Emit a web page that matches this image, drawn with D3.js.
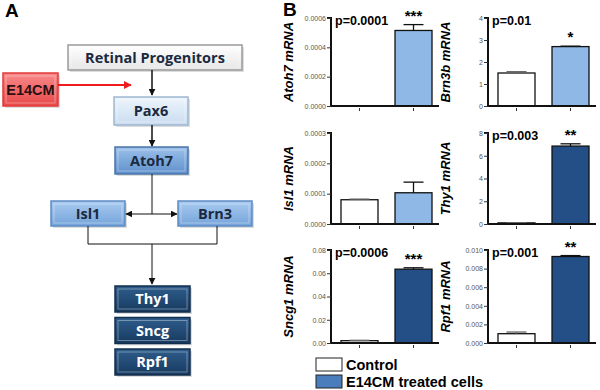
<!DOCTYPE html>
<html>
<head>
<meta charset="utf-8">
<script src="https://cdn.jsdelivr.net/npm/d3@7"></script>
<style>
    body { margin: 0; background: #fff; }
    svg { display: block; font-family: "Liberation Sans", Arial, sans-serif; }
    .tick text { fill: #555; }
</style>
</head>
<body>
<div id="chart"></div>
<script>
// ---- data (panel B) ----
const genes = ["Atoh7", "Brn3b", "Isl1", "Thy1", "Sncg1", "Rpf1"];
const groups = ["Control", "E14CM treated cells"];
const controlMeans = [0.000001, 1.5, 0.00008, 0.1, 0.002, 0.001];
const controlErrors = [0, 0.06, 0.000002, 0.02, 0.0003, 0.00018];
const treatedMeans = [0.000515, 2.7, 0.000103, 6.85, 0.0635, 0.0093];
const treatedErrors = [0.00004, 0.02, 0.000035, 0.2, 0.0012, 0.0001];
const yMaxes = [0.0006, 4, 0.0003, 8, 0.08, 0.010];
const yTicks = [
    [0, 0.0002, 0.0004, 0.0006],
    [0, 1, 2, 3, 4],
    [0, 0.0001, 0.0002, 0.0003],
    [0, 2, 4, 6, 8],
    [0, 0.02, 0.04, 0.06, 0.08],
    [0, 0.002, 0.004, 0.006, 0.008, 0.010]
];
const tickFormats = [".4f", "d", ".4f", "d", ".2f", ".3f"];
const pValues = ["p=0.0001", "p=0.01", "", "p=0.003", "p=0.0006", "p=0.001"];
const stars = ["***", "*", "", "**", "***", "**"];
const treatedShade = ["light", "light", "light", "dark", "dark", "dark"];

// ---- diagram labels (panel A) ----
const pathwayTop = ["Retinal Progenitors", "Pax6", "Atoh7"];
const pathwayPair = ["Isl1", "Brn3"];
const pathwayTargets = ["Thy1", "Sncg", "Rpf1"];
const inducer = "E14CM";

const width = 600, height = 390;
const svg = d3.select("#chart").append("svg")
    .attr("width", width)
    .attr("height", height);

svg.append("rect").attr("width", width).attr("height", height).attr("fill", "#fff");

const defs = svg.append("defs");

// gradients for the bevelled boxes
const gradients = {
    white: ["#ffffff", "#e6e6e6"],
    pale: ["#eef5fc", "#c9dcf0"],
    mid: ["#9cc0ea", "#5f90cc"],
    pair: ["#a9cbf0", "#74a3da"],
    navy: ["#2f5d8c", "#173a60"],
    red: ["#f88a8a", "#e84848"]
};
Object.entries(gradients).forEach(([key, stops]) => {
    const g = defs.append("linearGradient")
        .attr("id", `grad-${key}`)
        .attr("x1", 0).attr("y1", 0).attr("x2", 0).attr("y2", 1);
    g.append("stop").attr("offset", "0%").attr("stop-color", stops[0]);
    g.append("stop").attr("offset", "100%").attr("stop-color", stops[1]);
});

defs.append("marker")
    .attr("id", "arrow-black")
    .attr("viewBox", "0 0 10 10")
    .attr("refX", 9).attr("refY", 5)
    .attr("markerWidth", 7).attr("markerHeight", 7)
    .attr("markerUnits", "userSpaceOnUse")
    .attr("orient", "auto-start-reverse")
    .append("path").attr("d", "M0,0 L10,5 L0,10 z").attr("fill", "#111");

defs.append("marker")
    .attr("id", "arrow-red")
    .attr("viewBox", "0 0 10 10")
    .attr("refX", 9).attr("refY", 5)
    .attr("markerWidth", 8).attr("markerHeight", 8)
    .attr("markerUnits", "userSpaceOnUse")
    .attr("orient", "auto")
    .append("path").attr("d", "M0,0 L10,5 L0,10 z").attr("fill", "#ee1c1c");

// panel letters
svg.append("text").attr("x", 5).attr("y", 17)
    .style("font-size", "19px").style("font-weight", "bold").text("A");
svg.append("text").attr("x", 283).attr("y", 16)
    .style("font-size", "19px").style("font-weight", "bold").text("B");

// ---------- panel A : pathway diagram ----------
const diagram = svg.append("g").attr("class", "diagram");

function drawBox(x, y, w, h, label, grad, stroke, textColor, font) {
    const g = diagram.append("g");
    g.append("rect")
        .attr("x", x + 2).attr("y", y + 2)
        .attr("width", w).attr("height", h)
        .attr("fill", "#bbb").attr("opacity", 0.5);
    g.append("rect")
        .attr("x", x).attr("y", y)
        .attr("width", w).attr("height", h)
        .attr("fill", `url(#grad-${grad})`)
        .attr("stroke", stroke).attr("stroke-width", 1.5);
    // bevel highlight
    g.append("rect")
        .attr("x", x + 3).attr("y", y + 3)
        .attr("width", w - 6).attr("height", h - 6)
        .attr("fill", "none")
        .attr("stroke", "#fff").attr("stroke-opacity", 0.35).attr("stroke-width", 1);
    g.append("text")
        .attr("x", x + w / 2).attr("y", y + h / 2 + 5)
        .attr("text-anchor", "middle")
        .style("font-family", font || "'Open Sans', Lato, sans-serif")
        .style("font-size", "14.5px")
        .style("font-weight", "bold")
        .attr("fill", textColor)
        .text(label);
}

const cx = 152;
drawBox(68, 45, 174, 25, pathwayTop[0], "white", "#9a9a9a", "#1b2a40");
drawBox(114, 97, 74, 28, pathwayTop[1], "pale", "#9fb6cf", "#1b2a40");
drawBox(115, 147, 73, 27, pathwayTop[2], "mid", "#4a76a8", "#1b2a40");
drawBox(51, 201, 74, 25, pathwayPair[0], "pair", "#5c8cc2", "#1b2a40");
drawBox(178, 201, 74, 25, pathwayPair[1], "pair", "#5c8cc2", "#1b2a40");
pathwayTargets.forEach((label, i) => {
    drawBox(115, 286 + i * 31.5, 75, 26, label, "navy", "#132e4c", "#ffffff");
});
drawBox(3, 73, 55, 33, inducer, "red", "#e23a3a", "#2a1010", "'Liberation Sans', Arial, sans-serif");

const arrows = diagram.append("g")
    .attr("stroke", "#111").attr("stroke-width", 1.5).attr("fill", "none");
arrows.append("line").attr("x1", cx).attr("y1", 70).attr("x2", cx).attr("y2", 95)
    .attr("marker-end", "url(#arrow-black)");
arrows.append("line").attr("x1", cx).attr("y1", 125).attr("x2", cx).attr("y2", 146)
    .attr("marker-end", "url(#arrow-black)");
arrows.append("line").attr("x1", cx).attr("y1", 174).attr("x2", cx).attr("y2", 214)
    .attr("stroke-width", 1);
arrows.append("line").attr("x1", 126).attr("y1", 214).attr("x2", 177).attr("y2", 214)
    .attr("stroke-width", 1.2)
    .attr("marker-start", "url(#arrow-black)")
    .attr("marker-end", "url(#arrow-black)");
arrows.append("path")
    .attr("d", "M88,226 V244 H217 V226")
    .attr("stroke-width", 1);
arrows.append("line").attr("x1", cx).attr("y1", 244).attr("x2", cx).attr("y2", 284)
    .attr("stroke-width", 1)
    .attr("marker-end", "url(#arrow-black)");
diagram.append("line")
    .attr("x1", 58).attr("y1", 85).attr("x2", 131).attr("y2", 85)
    .attr("stroke", "#ee1c1c").attr("stroke-width", 2)
    .attr("marker-end", "url(#arrow-red)");

// ---------- panel B : bar charts ----------
const colAxisX = [331, 488];
const rowTop = [18, 133, 250];
const rowBottom = [106, 224, 343];
const plotWidth = 108;
const colors = { control: "#ffffff", light: "#8fb8e6", dark: "#234f86", legend: "#4a7dbb" };

genes.forEach((gene, i) => {
    const col = i % 2, row = Math.floor(i / 2);
    const x0 = colAxisX[col];
    const g = svg.append("g").attr("class", "panel").attr("id", `panel-${gene}`);

    const x = d3.scaleBand()
        .domain(groups)
        .range([x0, x0 + 111])
        .paddingInner(0.315)
        .paddingOuter(0.185);
    const y = d3.scaleLinear()
        .domain([0, yMaxes[i]])
        .range([rowBottom[row], rowTop[row]]);

    const bars = [
        { group: groups[0], mean: controlMeans[i], err: controlErrors[i], fill: colors.control },
        { group: groups[1], mean: treatedMeans[i], err: treatedErrors[i], fill: colors[treatedShade[i]] }
    ];

    // y axis
    const yAxis = d3.axisLeft(y)
        .tickValues(yTicks[i])
        .tickFormat(d3.format(tickFormats[i]))
        .tickSize(4)
        .tickPadding(1);
    const ya = g.append("g")
        .attr("transform", `translate(${x0},0)`)
        .call(yAxis);
    ya.select(".domain").attr("stroke", "#111").attr("stroke-width", 2)
        .attr("d", `M-4,${y(yMaxes[i])}H0V${y(0)}`);
    ya.selectAll(".tick line").attr("stroke", "#333");
    ya.selectAll(".tick text").style("font-size", "7px");

    // bars
    g.selectAll("rect.bar")
        .data(bars)
        .enter()
        .append("rect")
        .attr("class", "bar")
        .attr("x", d => x(d.group))
        .attr("y", d => y(d.mean))
        .attr("width", x.bandwidth())
        .attr("height", d => y(0) - y(d.mean))
        .attr("fill", d => d.fill)
        .attr("stroke", d => d.mean > yMaxes[i] * 0.005 ? "#111" : "#999")
        .attr("stroke-width", 1.3);

    // error bars
    const eb = g.selectAll("g.err")
        .data(bars.filter(d => d.err > 0))
        .enter()
        .append("g")
        .attr("class", "err")
        .attr("stroke", d => d.group === groups[0] ? "#666" : "#111")
        .attr("stroke-width", 1.3);
    eb.append("line")
        .attr("x1", d => x(d.group) + x.bandwidth() / 2)
        .attr("x2", d => x(d.group) + x.bandwidth() / 2)
        .attr("y1", d => y(d.mean))
        .attr("y2", d => y(d.mean + d.err));
    eb.append("line")
        .attr("x1", d => x(d.group) + x.bandwidth() / 2 - 10)
        .attr("x2", d => x(d.group) + x.bandwidth() / 2 + 10)
        .attr("y1", d => y(d.mean + d.err))
        .attr("y2", d => y(d.mean + d.err));

    // x axis
    const xAxis = d3.axisBottom(x).tickSize(3).tickFormat("");
    const xa = g.append("g")
        .attr("transform", `translate(0,${y(0)})`)
        .call(xAxis);
    xa.select(".domain").attr("stroke", "#111").attr("stroke-width", 1.8)
        .attr("d", `M${x0},0H${x0 + plotWidth}`);
    xa.selectAll(".tick line").attr("stroke", "#333").attr("transform", "translate(0,2)");

    // y label
    const label = g.append("text")
        .attr("transform", `translate(${x0 - 38},${(rowTop[row] + rowBottom[row]) / 2}) rotate(-90)`)
        .attr("text-anchor", "middle")
        .style("font-size", "13px")
        .style("font-weight", "bold")
        .style("font-style", "italic");
    label.append("tspan").text(gene);
    label.append("tspan").text(" mRNA");

    // p value
    if (pValues[i]) {
        g.append("text")
            .attr("x", x0 + 4)
            .attr("y", rowTop[row] + 7)
            .style("font-size", "12.5px")
            .style("font-weight", "bold")
            .text(pValues[i]);
    }

    // significance stars
    if (stars[i]) {
        const top = treatedMeans[i] + treatedErrors[i];
        g.append("text")
            .attr("x", x(groups[1]) + x.bandwidth() / 2)
            .attr("y", Math.min(y(top) - 4, y(0) - 20))
            .attr("text-anchor", "middle")
            .style("font-size", "15px")
            .style("font-weight", "bold")
            .text(stars[i]);
    }
});

// legend
const legend = svg.append("g").attr("class", "legend");
const legendFills = [colors.control, colors.legend];
groups.forEach((name, i) => {
    legend.append("rect")
        .attr("x", 316).attr("y", 358 + i * 17)
        .attr("width", 26).attr("height", 13)
        .attr("fill", legendFills[i])
        .attr("stroke", "#222").attr("stroke-width", 1);
    legend.append("text")
        .attr("x", 346).attr("y", 370 + i * 17)
        .style("font-size", "14.5px")
        .style("font-weight", "bold")
        .text(name);
});
</script>
</body>
</html>
